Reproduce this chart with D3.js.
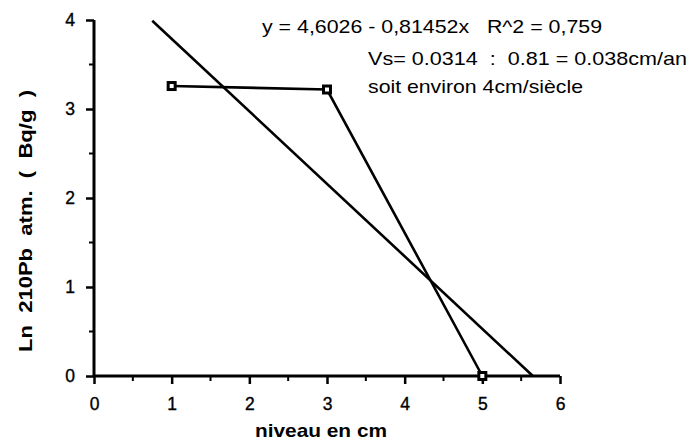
<!DOCTYPE html>
<html><head><meta charset="utf-8">
<script src="https://cdn.jsdelivr.net/npm/d3@7"></script>
<style>body{margin:0;background:#fff}svg{display:block}text{font-family:"Liberation Sans",Arial,sans-serif;fill:#000;white-space:pre}</style>
</head><body>
<script>
const niveau = [1, 3, 5];
const lnPb = [3.258, 3.219, 0];
const regIntercept = 4.6026, regSlope = -0.81452;
const regXStart = [0.75];
const xTicks = [0,1,2,3,4,5,6];
const yTicks = [0,1,2,3,4];
const annotations = ["y = 4,6026 - 0,81452x   R^2 = 0,759", "Vs= 0.0314  :  0.81 = 0.038cm/an", "soit environ 4cm/siècle"];

const W=689,H=441;
const svg=d3.select("body").append("svg").attr("width",W).attr("height",H);
const x=d3.scaleLinear().domain([0,6]).range([94,560]);
const y=d3.scaleLinear().domain([0,4]).range([376,20]);

const g=svg.append("g");
g.selectAll(".mx").data(d3.range(0.5,6,1)).join("line").attr("x1",d=>x(d)).attr("x2",d=>x(d)).attr("y1",376).attr("y2",381).attr("stroke","#000").attr("stroke-width",2);
g.selectAll(".my").data(d3.range(0.5,4,1)).join("line").attr("y1",d=>y(d)).attr("y2",d=>y(d)).attr("x1",94).attr("x2",89).attr("stroke","#000").attr("stroke-width",2);

const xa=svg.append("g").attr("transform","translate(0,376)").call(d3.axisBottom(x).tickValues(xTicks).tickSize(8).tickPadding(14).tickFormat(d3.format("d")));
const ya=svg.append("g").attr("transform","translate(94,0)").call(d3.axisLeft(y).tickValues(yTicks).tickSize(8).tickPadding(11).tickFormat(d3.format("d")));
[xa,ya].forEach(a=>{a.select(".domain").attr("stroke","#000").attr("stroke-width",3);
 a.selectAll(".tick line").attr("stroke","#000").attr("stroke-width",2.5);
 a.selectAll("text").attr("font-size",17.5).attr("font-family","Liberation Sans, Arial, sans-serif").attr("fill","#000").attr("stroke","#000").attr("stroke-width",0.35);});
xa.select(".domain").attr("d","M94,0H560");
ya.select(".domain").attr("d","M0,20V376");

const x0=regXStart[0], x1=-regIntercept/regSlope;
svg.append("line").attr("x1",x(x0)).attr("y1",y(regIntercept+regSlope*x0)).attr("x2",x(x1)).attr("y2",y(0)).attr("stroke","#000").attr("stroke-width",2.6);

const pts=niveau.map((v,i)=>[v,lnPb[i]]);
svg.append("path").attr("d",d3.line().x(d=>x(d[0])).y(d=>y(d[1]))(pts)).attr("fill","none").attr("stroke","#000").attr("stroke-width",2.6);
svg.selectAll(".pt").data(pts).join("rect").attr("x",d=>x(d[0])-3.5).attr("y",d=>y(d[1])-3.5).attr("width",7).attr("height",7).attr("fill","#fff").attr("stroke","#000").attr("stroke-width",3);

function ann(t,xx,yy,len){svg.append("text").attr("x",xx).attr("y",yy).attr("font-size",18.5).attr("textLength",len).attr("lengthAdjust","spacingAndGlyphs").text(t);}
ann(annotations[0],262,33,340);
ann(annotations[1],368,65,319);
ann(annotations[2],368,93,215);

svg.append("text").attr("x",255).attr("y",437).attr("font-size",19).attr("font-weight","bold").attr("textLength",132).attr("lengthAdjust","spacingAndGlyphs").text("niveau en cm");
svg.append("text").attr("transform","translate(32,352) rotate(-90)").attr("font-size",19).attr("font-weight","bold").attr("textLength",262).attr("lengthAdjust","spacingAndGlyphs").text("Ln  210Pb  atm.  (  Bq/g  )");
</script>
</body></html>
